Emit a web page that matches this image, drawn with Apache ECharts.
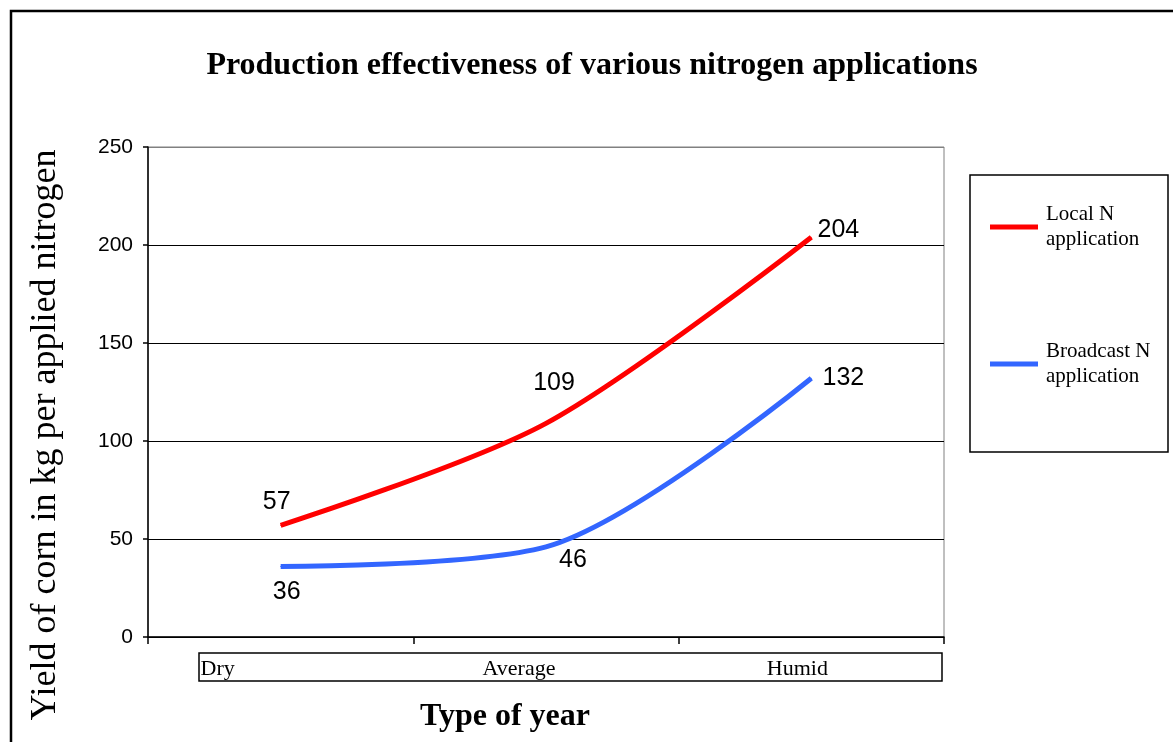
<!DOCTYPE html>
<html>
<head>
<meta charset="utf-8">
<script src="https://cdn.jsdelivr.net/npm/echarts@6/dist/echarts.min.js"></script>
<style>
html,body{margin:0;padding:0;background:#fff;}
#chart{width:1173px;height:742px;}
</style>
</head>
<body>
<div id="chart"></div>
<script>
// ---- data ----
var categories = ['Dry', 'Average', 'Humid'];
var localN = [57, 109, 204];
var broadcastN = [36, 46, 132];
var seriesNames = ['Local N application', 'Broadcast N application'];
var yTicks = [0, 50, 100, 150, 200, 250];
var titleText = 'Production effectiveness of various nitrogen applications';
var yTitle = 'Yield of corn in kg per applied nitrogen';
var xTitle = 'Type of year';

// ---- styling (label placement offsets) ----
var localOffsets = [[-4, -23], [8, -40], [27, -7]];
var broadOffsets = [[6, 26], [27, 13], [32, 0]];
var catPad = [126, 54, 28];

function withLabels(vals, offs) {
  return vals.map(function (v, i) {
    return { value: v, label: { show: true, position: 'inside', offset: offs[i] } };
  });
}

var chart = echarts.init(document.getElementById('chart'), null, { renderer: 'canvas' });
var serif = '"Liberation Serif", "Times New Roman", serif';
var sans = '"Liberation Sans", Arial, sans-serif';
var catRich = function (p) {
  return { fontFamily: serif, fontSize: 22, color: '#000', padding: [0, p, 0, 0] };
};

var option = {
  backgroundColor: '#ffffff',
  animation: false,
  title: {
    text: titleText,
    left: 587, top: 45, textAlign: 'center',
    textStyle: { fontFamily: serif, fontWeight: 'bold', fontSize: 32, color: '#000' }
  },
  grid: {
    left: 148, right: 229, top: 147, bottom: 105,
    show: true, borderColor: '#808080', borderWidth: 1, backgroundColor: '#fff'
  },
  legend: {
    orient: 'vertical',
    left: 990, top: 195, padding: 0,
    itemWidth: 48, itemHeight: 5, itemGap: 73,
    icon: 'rect',
    data: seriesNames,
    formatter: function (n) { return n.replace(' application', '\napplication'); },
    textStyle: { fontFamily: serif, fontSize: 21, color: '#000', lineHeight: 25, padding: [0, 0, 14, 3] }
  },
  xAxis: {
    type: 'category',
    data: categories,
    boundaryGap: true,
    axisLine: { lineStyle: { color: '#000', width: 1.5 } },
    axisTick: { show: true, length: 7, lineStyle: { color: '#000', width: 1.5 } },
    axisLabel: {
      margin: 21,
      formatter: function (v, i) { return '{c' + i + '|' + v + '}'; },
      rich: { c0: catRich(catPad[0]), c1: catRich(catPad[1]), c2: catRich(catPad[2]) }
    },
    splitLine: { show: false }
  },
  yAxis: {
    type: 'value',
    min: yTicks[0], max: yTicks[yTicks.length - 1], interval: 50,
    axisLine: { show: true, lineStyle: { color: '#000', width: 1.5 } },
    axisTick: { show: true, length: 5, lineStyle: { color: '#000', width: 1.5 } },
    axisLabel: { margin: 15, fontFamily: sans, fontSize: 21, color: '#000' },
    splitLine: { show: true, lineStyle: { color: ['#000', '#000', '#000', '#000', '#000', '#808080'], width: 1.2 } }
  },
  graphic: [
    { type: 'rect', z: -10, silent: true, shape: { x: 11, y: 11, width: 1250, height: 800 },
      style: { fill: 'none', stroke: '#000', lineWidth: 2.5 } },
    { type: 'rect', silent: true, shape: { x: 970, y: 175, width: 198, height: 277 },
      style: { fill: 'none', stroke: '#000', lineWidth: 1.5 } },
    { type: 'rect', silent: true, shape: { x: 199, y: 653, width: 743, height: 28 },
      style: { fill: 'none', stroke: '#000', lineWidth: 1.5 } },
    { type: 'text', silent: true, x: 46, y: 435, rotation: Math.PI / 2,
      style: { text: yTitle, fontFamily: serif, fontSize: 36, fill: '#000', align: 'center', verticalAlign: 'middle' } },
    { type: 'text', silent: true, x: 505, y: 717,
      style: { text: xTitle, fontFamily: serif, fontWeight: 'bold', fontSize: 32, fill: '#000', align: 'center', verticalAlign: 'middle' } }
  ],
  series: [
    {
      name: seriesNames[0], type: 'line', smooth: 0.3,
      data: withLabels(localN, localOffsets),
      symbol: 'circle', symbolSize: 1,
      lineStyle: { color: '#ff0000', width: 5 },
      itemStyle: { color: '#ff0000' },
      label: { fontFamily: sans, fontSize: 25, color: '#000' }
    },
    {
      name: seriesNames[1], type: 'line', smooth: 0.3,
      data: withLabels(broadcastN, broadOffsets),
      symbol: 'circle', symbolSize: 1,
      lineStyle: { color: '#3366ff', width: 5 },
      itemStyle: { color: '#3366ff' },
      label: { fontFamily: sans, fontSize: 25, color: '#000' }
    }
  ]
};
chart.setOption(option);
</script>
</body>
</html>
